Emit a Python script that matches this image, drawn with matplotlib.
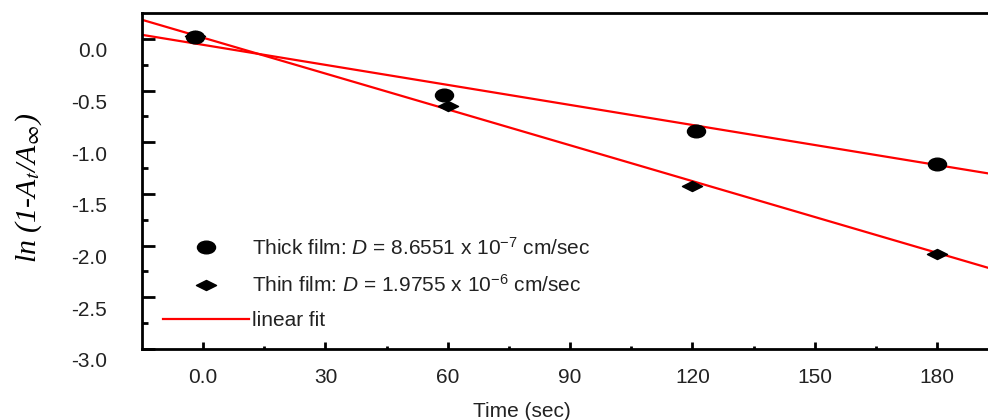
import numpy as np
import matplotlib.pyplot as plt
from matplotlib.path import Path
from matplotlib.transforms import Affine2D, ScaledTranslation
from matplotlib.lines import Line2D

plt.rcParams['font.family'] = ['Liberation Sans', 'DejaVu Sans']
plt.rcParams['mathtext.fontset'] = 'custom'
plt.rcParams['mathtext.rm'] = 'Liberation Sans'
plt.rcParams['mathtext.it'] = 'Liberation Sans:italic'

# data
time_thick = [-2, 59, 121, 180]
ln_thick = [0.02, -0.54, -0.89, -1.21]
time_thin = [-2, 60, 120, 180]
ln_thin = [0.03, -0.65, -1.42, -2.08]

# linear fits (slope, intercept)
fit_thick = (-0.006458, -0.058)
fit_thin = (-0.01156, 0.011)

xticks = [0, 30, 60, 90, 120, 150, 180]
xticklabels = ['0.0', '30', '60', '90', '120', '150', '180']
yticks = [0.0, -0.5, -1.0, -1.5, -2.0, -2.5, -3.0]
yticklabels = ['0.0', '-0.5', '-1.0', '-1.5', '-2.0', '-2.5', '-3.0']

# flattened marker shapes
ellipse = Path.unit_circle().transformed(Affine2D().scale(1.0, 0.7))
diamond = Path([(-1, 0), (0, 0.5), (1, 0), (0, -0.5), (-1, 0)],
               [Path.MOVETO, Path.LINETO, Path.LINETO, Path.LINETO, Path.CLOSEPOLY])

fig = plt.figure(figsize=(9.88, 4.2), dpi=100)
ax = fig.add_axes([142 / 988, 71 / 420, 846 / 988, 336 / 420])

xfit = np.array([-15, 192.5])
for slope, icpt in (fit_thick, fit_thin):
    ax.plot(xfit, slope * xfit + icpt, color='#ff0000', lw=1.6, zorder=2)

ax.plot(time_thin, ln_thin, ls='none', marker=diamond, ms=14.5, color='black', zorder=3)
ax.plot(time_thick, ln_thick, ls='none', marker=ellipse, ms=13, color='black', zorder=4)

ax.set_xlim(-15, 192.5)
ax.set_ylim(-3.0, 0.25)

ax.set_xticks(xticks)
ax.set_xticklabels(xticklabels)
ax.set_xticks(np.arange(15, 190, 30), minor=True)
ax.set_yticks(yticks)
ax.set_yticklabels(yticklabels)
ax.set_yticks(np.arange(-2.75, 0.2, 0.5), minor=True)

ax.tick_params(axis='x', which='major', direction='in', length=5, width=2, pad=14, labelsize=15)
ax.tick_params(axis='x', which='minor', direction='in', length=2, width=2)
ax.tick_params(axis='y', which='major', direction='in', length=9, width=2, pad=25, labelsize=15)
ax.tick_params(axis='y', which='minor', direction='in', length=4, width=2)
for lab in ax.get_xticklabels() + ax.get_yticklabels():
    lab.set_color('#222222')

# y tick labels sit a bit below their ticks in the original
shift = ScaledTranslation(0, -11 / 100, fig.dpi_scale_trans)
for lab in ax.get_yticklabels():
    lab.set_transform(lab.get_transform() + shift)

for side in ('left', 'top', 'bottom'):
    ax.spines[side].set_linewidth(2)
ax.spines['right'].set_visible(False)

ax.set_xlabel('Time (sec)', fontsize=15, color='#222222')
ax.xaxis.set_label_coords(0.449, -0.157)
ax.set_ylabel(r'ln (1-A$_t$/A$_\infty$)', fontsize=21.5, family='Liberation Serif',
              style='italic', math_fontfamily='stix')
ax.yaxis.set_label_coords(-0.116, 0.48)

handles = [
    Line2D([], [], ls='none', marker=ellipse, ms=13, color='black'),
    Line2D([], [], ls='none', marker=diamond, ms=14.5, color='black'),
    Line2D([], [], color='#ff0000', lw=1.6),
]
labels = [
    r'Thick film: $D$ = 8.6551 x 10$^{-7}$ cm/sec',
    r'Thin film: $D$ = 1.9755 x 10$^{-6}$ cm/sec',
    'linear fit',
]
leg = ax.legend(handles, labels, loc='upper left', bbox_to_anchor=(0.025, 0.335),
                frameon=False, fontsize=15, handlelength=4.1, handletextpad=0.15,
                labelspacing=0.75, borderpad=0, borderaxespad=0)
for t in leg.get_texts():
    t.set_color('#222222')

fig.savefig('out.png', dpi=100)
